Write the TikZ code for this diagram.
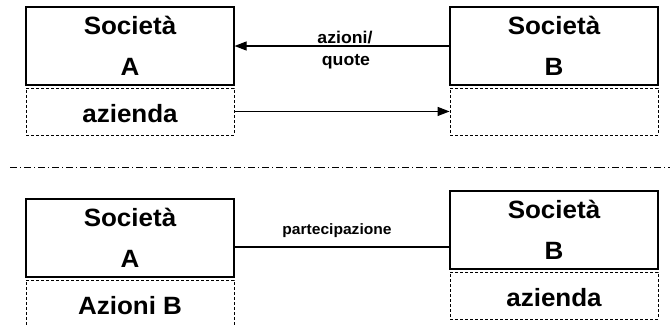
\documentclass[tikz,border=0pt]{standalone}
\usepackage{fontspec}
\setmainfont{Liberation Sans}[FakeStretch=1.04]
\usepackage{tikz}
\usetikzlibrary{positioning,arrows.meta}

\begin{document}
\begin{tikzpicture}[x=1pt,y=1pt,
  every node/.style={font=\bfseries},
  soc/.style={draw=black,line width=1.1pt,minimum width=208pt,minimum height=78pt,inner sep=0pt,align=center,font=\bfseries\fontsize{25}{41}\selectfont},
  dbox/.style={draw=black,line width=0.8pt,dash pattern=on 3pt off 2pt,minimum width=208pt,minimum height=47pt,inner sep=0pt,text height=23pt,text depth=0pt,font=\bfseries\fontsize{25}{29}\selectfont},
  lbl/.style={inner sep=0pt,font=\bfseries\fontsize{17}{19}\selectfont},
  conn/.style={black,line width=1.1pt}]
\useasboundingbox (0,0) rectangle (670,-325);
\node[soc] (socA) at (130,-46) {Società\\A};
\node[dbox,below=2pt of socA] (azA) {azienda};
\node[soc] (socB) at (554,-46) {Società\\B};
\node[dbox,below=2pt of socB] (azB) {};
\draw[conn,-{Triangle[length=12pt,width=9pt]}] (socB.west) -- node[lbl,above=1.5pt,xshift=3pt]{azioni/} node[lbl,below=8pt,xshift=4pt]{quote} (socA.east);
\draw[conn,-{Triangle[length=12pt,width=9pt]}] (azA.east) -- (azB.west);
\coordinate (sepL) at (10,-167);
\coordinate (sepR) at (670,-167);
\draw[black,line width=0.8pt,dash pattern=on 7pt off 3pt on 1pt off 3pt] (sepL) -- (sepR);
\node[soc] (socA2) at (130,-238) {Società\\A};
\node[dbox,below=2pt of socA2] (azioniB) {Azioni B};
\node[soc] (socB2) at (554,-230) {Società\\B};
\node[dbox,below=2pt of socB2] (azB2) {azienda};
\draw[conn] ([yshift=-9pt]socA2.east) -- node[lbl,above=8.5pt,font=\bfseries\fontsize{15}{17}\selectfont,xshift=-5pt]{partecipazione} ([yshift=-17pt]socB2.west);
\end{tikzpicture}
\end{document}
